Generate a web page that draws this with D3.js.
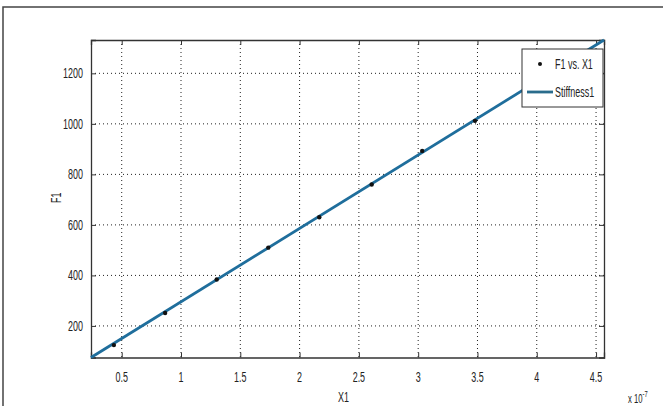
<!DOCTYPE html>
<html>
<head>
<meta charset="utf-8">
<script src="https://cdn.jsdelivr.net/npm/d3@7"></script>
<style>
  body { margin: 0; background: #fff; }
  text { font-family: "Liberation Sans", Arial, sans-serif; fill: #222; }
</style>
</head>
<body>
<div id="chart"></div>
<script>
// data (x in units of 1e-7)
var x1 = [0.434, 0.866, 1.301, 1.736, 2.166, 2.608, 3.034, 3.479];
var f1 = [124, 251, 384, 510, 630, 760, 893, 1012];
// fitted line end points
var fitX = [0.241, 4.567];
var fitY = [75, 1332];
var xTicks = [0.5, 1, 1.5, 2, 2.5, 3, 3.5, 4, 4.5];
var yTicks = [200, 400, 600, 800, 1000, 1200];
var legendLabels = ["F1 vs. X1", "Stiffness1"];

var margin = {top: 40, right: 59, bottom: 48.5, left: 91},
    width = 663 - margin.left - margin.right,
    height = 406 - margin.top - margin.bottom;

var sx = 0.64; // squashed MATLAB-like text

var root = d3.select("#chart").append("svg")
    .attr("width", 663)
    .attr("height", 406);

// outer figure frame
root.append("path")
    .attr("d", "M3,406V7H663")
    .attr("fill", "none")
    .attr("stroke", "#444")
    .attr("stroke-width", 1.5);

var svg = root.append("g")
    .attr("transform", "translate(" + margin.left + "," + margin.top + ")");

var x = d3.scaleLinear().domain(fitX).range([0, width]);
var y = d3.scaleLinear().domain([fitY[0], fitY[1]]).range([height, 0]);

function label(g, tx, ty, str, anchor, size) {
  return g.append("text")
      .attr("transform", "translate(" + tx + "," + ty + ") scale(" + sx + ",1)")
      .attr("text-anchor", anchor)
      .style("font-size", size + "px")
      .text(str);
}

// grid
svg.append("g").selectAll("line")
    .data(xTicks).enter().append("line")
    .attr("x1", d => x(d)).attr("x2", d => x(d))
    .attr("y1", 0).attr("y2", height)
    .attr("stroke", "#222").attr("stroke-dasharray", "1,3");
svg.append("g").selectAll("line")
    .data(yTicks).enter().append("line")
    .attr("y1", d => y(d)).attr("y2", d => y(d))
    .attr("x1", 0).attr("x2", width)
    .attr("stroke", "#222").attr("stroke-dasharray", "1,3");

// axes (ticks inward, on all four sides)
svg.append("g")
    .attr("transform", "translate(0," + height + ")")
    .call(d3.axisBottom(x).tickValues(xTicks).tickSize(-5).tickFormat(""));
svg.append("g")
    .call(d3.axisTop(x).tickValues(xTicks).tickSize(-5).tickFormat(""));
svg.append("g")
    .call(d3.axisLeft(y).tickValues(yTicks).tickSize(-5).tickFormat(""));
svg.append("g")
    .attr("transform", "translate(" + width + ",0)")
    .call(d3.axisRight(y).tickValues(yTicks).tickSize(-5).tickFormat(""));
svg.selectAll(".domain").attr("stroke", "#333").attr("stroke-width", 1.3);
svg.selectAll(".tick line").attr("stroke", "#333");

// tick labels
xTicks.forEach(function(t) {
  label(svg, x(t), height + 24, String(t), "middle", 14);
});
yTicks.forEach(function(t) {
  label(svg, -8, y(t) + 5, String(t), "end", 14);
});

// axis titles
label(svg, width / 2 - 4, height + 44, "X1", "middle", 14);
svg.append("text")
    .attr("transform", "translate(-30," + (height / 2 - 1) + ") rotate(-90) scale(" + sx + ",1)")
    .attr("text-anchor", "middle")
    .style("font-size", "14px")
    .text("F1");
var ex = label(svg, width + 24, height + 45.5, "x 10", "start", 12);
ex.append("tspan").attr("dy", -6).style("font-size", "9px").text("-7");

// fitted line
var line = d3.line().x(d => x(d[0])).y(d => y(d[1]));
svg.append("path")
    .datum(d3.zip(fitX, fitY))
    .attr("d", line)
    .attr("fill", "none")
    .attr("stroke", "#1f6e9c")
    .attr("stroke-width", 2.8);

// data points
svg.append("g").selectAll("circle")
    .data(d3.zip(x1, f1)).enter().append("circle")
    .attr("cx", d => x(d[0]))
    .attr("cy", d => y(d[1]))
    .attr("r", 2.2)
    .attr("fill", "#111");

// legend
var lg = svg.append("g").attr("transform", "translate(" + (width - 82) + ",9)");
lg.append("rect")
    .attr("width", 81).attr("height", 58)
    .attr("fill", "#fff").attr("stroke", "#333").attr("stroke-width", 1);
lg.append("circle").attr("cx", 18).attr("cy", 15).attr("r", 2).attr("fill", "#111");
lg.append("line")
    .attr("x1", 5).attr("x2", 31).attr("y1", 43).attr("y2", 43)
    .attr("stroke", "#2a6c8c").attr("stroke-width", 2.8);
label(lg, 33, 20, legendLabels[0], "start", 14);
label(lg, 33, 48, legendLabels[1], "start", 14);
</script>
</body>
</html>
